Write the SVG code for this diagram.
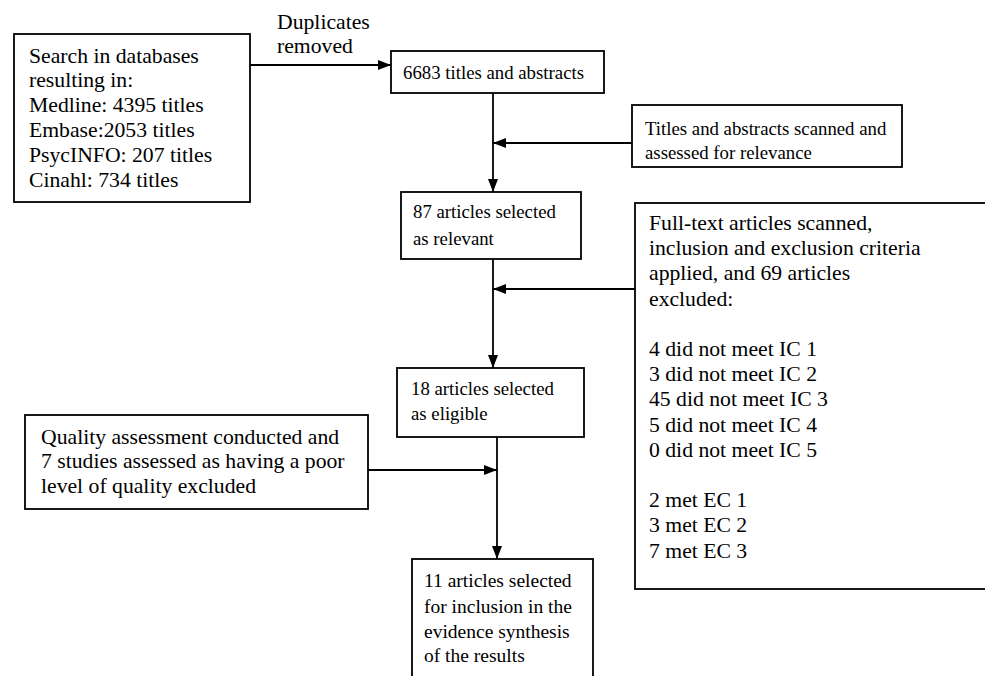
<svg xmlns="http://www.w3.org/2000/svg" width="985" height="676" viewBox="0 0 985 676">
<style>
  .box { fill: #ffffff; stroke: #000000; stroke-width: 1.8; }
  .edge { fill: none; stroke: #000000; stroke-width: 1.8; }
  .tx { font-family: 'Liberation Serif', 'Tinos', 'DejaVu Serif', serif; fill: #000000; }
  .L { font-size: 21.7px; }
  .S { font-size: 18.8px; }
  .M { font-size: 19.5px; }
</style>
<defs>
  <marker id="arrow" markerUnits="userSpaceOnUse" markerWidth="13" markerHeight="10" refX="13" refY="5" orient="auto">
    <path d="M0,0 L13,5 L0,10 z" fill="#000000"/>
  </marker>
</defs>
<rect width="985" height="676" fill="#ffffff"/>

<g id="connectors">
  <line class="edge" x1="250" y1="65" x2="391" y2="65" marker-end="url(#arrow)"/>
  <line class="edge" x1="493" y1="93" x2="493" y2="192" marker-end="url(#arrow)"/>
  <line class="edge" x1="632" y1="143" x2="493" y2="143" marker-end="url(#arrow)"/>
  <line class="edge" x1="493" y1="259" x2="493" y2="368" marker-end="url(#arrow)"/>
  <line class="edge" x1="635" y1="289" x2="493" y2="289" marker-end="url(#arrow)"/>
  <line class="edge" x1="497" y1="437" x2="497" y2="559" marker-end="url(#arrow)"/>
  <line class="edge" x1="368" y1="470" x2="497" y2="470" marker-end="url(#arrow)"/>
  <g class="tx L" font-family="Liberation Serif, DejaVu Serif, serif">
    <text x="277" y="29">Duplicates</text>
    <text x="277" y="53">removed</text>
  </g>
</g>

<g id="search" class="tx" font-family="Liberation Serif, DejaVu Serif, serif">
  <rect class="box" x="14" y="34" width="236" height="168"/>
  <text class="L" x="29" y="62.5">Search in databases</text>
  <text class="L" x="29" y="87.3">resulting in:</text>
  <text class="L" x="29" y="112.1">Medline: 4395 titles</text>
  <text class="L" x="29" y="136.9">Embase:2053 titles</text>
  <text class="L" x="29" y="161.7">PsycINFO: 207 titles</text>
  <text class="L" x="29" y="186.5">Cinahl: 734 titles</text>
</g>

<g id="titles-abstracts" class="tx" font-family="Liberation Serif, DejaVu Serif, serif">
  <rect class="box" x="391" y="51" width="213" height="42"/>
  <text class="S" x="403" y="79">6683 titles and abstracts</text>
</g>

<g id="screening" class="tx" font-family="Liberation Serif, DejaVu Serif, serif">
  <rect class="box" x="632" y="105" width="270" height="62"/>
  <text class="S" x="645" y="135">Titles and abstracts scanned and</text>
  <text class="S" x="645" y="158.5">assessed for relevance</text>
</g>

<g id="relevant" class="tx" font-family="Liberation Serif, DejaVu Serif, serif">
  <rect class="box" x="401" y="192" width="180" height="67"/>
  <text class="S" x="413" y="218">87 articles selected</text>
  <text class="S" x="413" y="245">as relevant</text>
</g>

<g id="fulltext" class="tx" font-family="Liberation Serif, DejaVu Serif, serif">
  <rect class="box" x="635" y="203" width="365" height="386"/>
  <text class="L" x="649" y="230">Full-text articles scanned,</text>
  <text class="L" x="649" y="255.2">inclusion and exclusion criteria</text>
  <text class="L" x="649" y="280.4">applied, and 69 articles</text>
  <text class="L" x="649" y="305.6">excluded:</text>
  <text class="L" x="649" y="356">4 did not meet IC 1</text>
  <text class="L" x="649" y="381.2">3 did not meet IC 2</text>
  <text class="L" x="649" y="406.4">45 did not meet IC 3</text>
  <text class="L" x="649" y="431.6">5 did not meet IC 4</text>
  <text class="L" x="649" y="456.8">0 did not meet IC 5</text>
  <text class="L" x="649" y="507.2">2 met EC 1</text>
  <text class="L" x="649" y="532.4">3 met EC 2</text>
  <text class="L" x="649" y="557.6">7 met EC 3</text>
</g>

<g id="eligible" class="tx" font-family="Liberation Serif, DejaVu Serif, serif">
  <rect class="box" x="397" y="368" width="187" height="69"/>
  <text class="S" x="411" y="395">18 articles selected</text>
  <text class="S" x="411" y="420">as eligible</text>
</g>

<g id="quality" class="tx" font-family="Liberation Serif, DejaVu Serif, serif">
  <rect class="box" x="25" y="415" width="343" height="94"/>
  <text class="L" x="41" y="443.5">Quality assessment conducted and</text>
  <text class="L" x="41" y="468.3">7 studies assessed as having a poor</text>
  <text class="L" x="41" y="493">level of quality excluded</text>
</g>

<g id="included" class="tx" font-family="Liberation Serif, DejaVu Serif, serif">
  <rect class="box" x="412" y="559" width="181" height="130"/>
  <text class="M" x="424" y="587">11 articles selected</text>
  <text class="M" x="424" y="612.5">for inclusion in the</text>
  <text class="M" x="424" y="637.5">evidence synthesis</text>
  <text class="M" x="424" y="662">of the results</text>
</g>
</svg>
